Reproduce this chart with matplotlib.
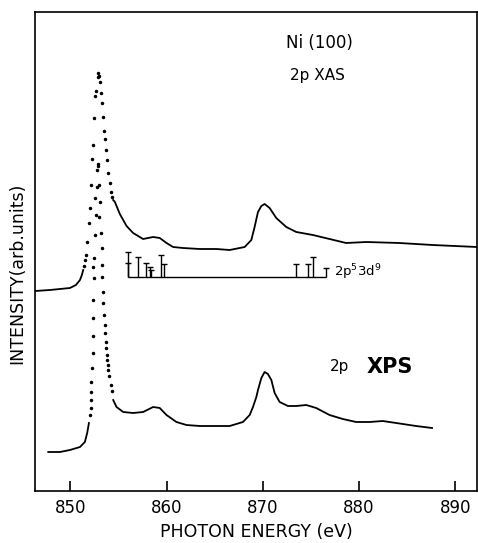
import numpy as np
import matplotlib
matplotlib.use("Agg")
import matplotlib.pyplot as plt

# ---- data (energy in eV, intensity in arb. units) ----
# XAS, continuous parts
xas_left_e = [846.34, 847.89, 848.93, 849.97, 850.59, 851.01, 851.21, 851.35]
xas_left_i = [200, 201, 202, 203, 206, 211, 216, 221]
# XAS L3 white line, drawn as dots
xas_dot_e = [851.42, 851.52, 851.63, 851.70, 851.94, 852.04, 852.15, 852.28, 852.32,
             852.49, 852.59, 852.67, 852.84, 852.90, 853.01, 853.08, 853.18, 853.26,
             853.36, 853.46, 853.57, 853.70, 853.81, 853.88, 854.12, 854.22, 854.36]
xas_dot_i = [225, 231, 236, 249, 268, 283, 306, 332, 346,
             373, 395, 400, 414, 418, 415, 409, 398, 388,
             374, 360, 352, 341, 331, 318, 308, 299, 294]
xas_right_e = [854.46, 854.64, 855.15, 855.85, 856.53, 857.57, 858.61, 859.30, 860.00,
               860.68, 861.72, 863.45, 865.18, 866.56, 868.12, 868.81, 869.15, 869.50,
               869.85, 870.19, 870.71, 871.40, 872.44, 873.48, 875.20, 876.93, 878.66,
               880.74, 884.19, 887.64, 892.25]
xas_right_i = [291, 289, 277, 265, 258, 252, 254, 253, 248,
               244, 243, 242, 242, 241, 244, 251, 264, 279,
               285, 287, 283, 273, 264, 259, 256, 252, 248,
               249, 248, 246, 244]

# XPS, continuous parts
xps_left_e = [847.72, 848.93, 849.97, 851.01, 851.52, 851.76, 851.87, 851.94]
xps_left_i = [39, 39, 41, 44, 49, 58, 64, 68]
# XPS 2p3/2 main line, drawn as dots
xps_dot_e = [852.04, 852.12, 852.12, 852.15, 852.15, 852.22, 852.32, 852.39, 852.39,
             852.39, 852.46, 852.39, 852.46, 852.56, 852.63, 852.56, 852.80, 852.74,
             852.84, 852.90, 852.98, 853.08, 853.01, 853.15, 853.26, 853.32, 853.32,
             853.36, 853.42, 853.53, 853.60, 853.60, 853.67, 853.70, 853.77, 853.81,
             853.88, 853.96, 854.07, 854.22, 854.32]
xps_dot_i = [76, 83, 91, 99, 109, 123, 138, 155, 173,
             191, 213, 224, 233, 256, 276, 293, 304, 321,
             327, 325, 306, 289, 274, 258, 243, 226, 214,
             199, 188, 176, 166, 158, 149, 143, 136, 131,
             126, 121, 115, 106, 100]
xps_right_e = [854.46, 854.81, 855.50, 856.53, 857.57, 858.61, 859.30, 860.00, 861.03,
               862.07, 863.45, 865.18, 866.56, 867.94, 868.64, 868.98, 869.33, 869.50,
               869.85, 870.19, 870.53, 870.89, 871.23, 871.75, 872.61, 873.48, 874.51,
               875.55, 876.93, 878.31, 879.70, 881.08, 882.46, 883.85, 885.92, 887.58]
xps_right_i = [91, 84, 79, 78, 79, 84, 83, 76, 69,
               66, 65, 65, 65, 69, 76, 84, 94, 101,
               113, 119, 117, 111, 98, 89, 85, 85, 86,
               83, 76, 72, 69, 69, 70, 68, 65, 63]

# 2p5 3d9 multiplet sticks
stick_e = [856.01, 856.01, 857.05, 857.92, 858.27, 858.44, 859.41, 859.75,
           873.48, 874.68, 875.20, 876.59]
stick_h = [24.8, 13.5, 19.2, 13.8, 9.8, 6.5, 21.5, 12.5,
           12.7, 12.7, 19.2, 8.2]
stick_base = 214.5

xticks = [850, 860, 870, 880, 890]

fig = plt.figure(figsize=(4.78, 5.43), dpi=100)
ax = fig.add_axes([35 / 478, 52 / 543, 442 / 478, 479 / 543])

lw = 1.3
ax.plot(xas_left_e, xas_left_i, color="black", lw=lw)
ax.plot(xas_right_e, xas_right_i, color="black", lw=lw)
ax.plot(xas_dot_e, xas_dot_i, ls="none", marker="o", ms=1.5, color="black")
ax.plot(xps_left_e, xps_left_i, color="black", lw=lw)
ax.plot(xps_right_e, xps_right_i, color="black", lw=lw)
ax.plot(xps_dot_e, xps_dot_i, ls="none", marker="o", ms=1.5, color="black")

# stick spectrum
ax.hlines(stick_base, min(stick_e), max(stick_e), color="black", lw=1.0)
tops = np.array(stick_h) + stick_base
ax.vlines(stick_e, stick_base, tops, color="black", lw=1.0)
ax.plot(stick_e, tops, ls="none", marker="_", ms=5, mew=1.0, color="black")

ax.text(877.4, 219, "2p$^5$3d$^9$", fontsize=9.5, va="center", ha="left")
ax.text(875.9, 448, "Ni (100)", fontsize=12, ha="center", va="center")
ax.text(875.7, 416, "2p XAS", fontsize=11, ha="center", va="center")
ax.text(878.0, 124, "2p", fontsize=11, ha="center", va="center")
ax.text(880.8, 124, "XPS", fontsize=15, ha="left", va="center", weight="bold")

ax.set_xlim(846.34, 892.25)
ax.set_ylim(0, 479)
ax.set_xticks(xticks)
ax.set_yticks([])
ax.tick_params(axis="x", direction="in", length=7, width=1.2, labelsize=12, pad=6)
for s in ax.spines.values():
    s.set_linewidth(1.2)

ax.set_xlabel("PHOTON ENERGY (eV)", fontsize=12.5, labelpad=4)
fig.text(17 / 478, 1 - 273 / 543, "INTENSITY(arb.units)", rotation=90,
         fontsize=12.5, ha="center", va="center")

fig.savefig("out.png", dpi=100)
